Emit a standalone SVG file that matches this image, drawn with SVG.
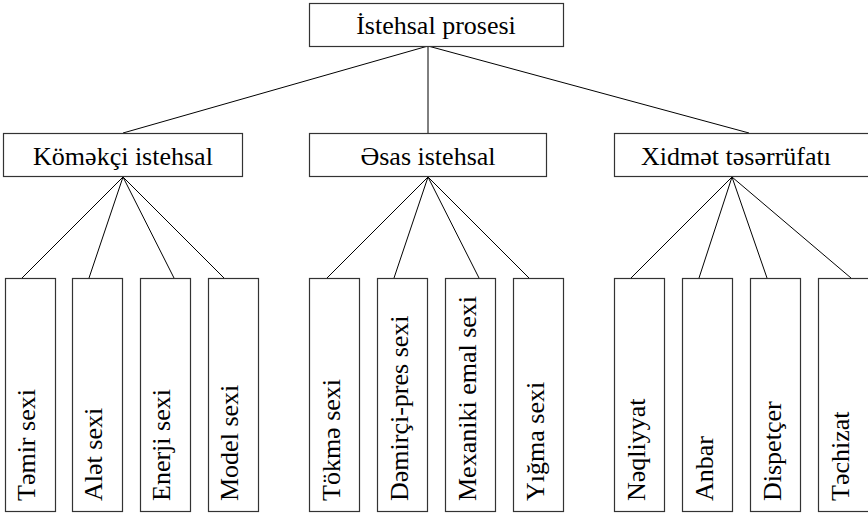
<svg xmlns="http://www.w3.org/2000/svg" width="868" height="514" viewBox="0 0 868 514">
<style>
.box{fill:#fff;stroke:#333;stroke-width:1.2}
.t{font-family:"Liberation Serif","Times New Roman",serif;font-size:26px;fill:#000}
.c{text-anchor:middle}
.v{text-anchor:start}
.ln{stroke:#000;stroke-width:1;fill:none}
</style>
<rect width="868" height="514" fill="#fff"/>
<g id="connectors">
<line class="ln" x1="428" y1="46" x2="123" y2="133"/>
<line class="ln" x1="428" y1="46" x2="428" y2="133"/>
<line class="ln" x1="428" y1="46" x2="749" y2="133"/>
<line class="ln" x1="123" y1="177" x2="22" y2="278"/>
<line class="ln" x1="123" y1="177" x2="89" y2="278"/>
<line class="ln" x1="123" y1="177" x2="174" y2="278"/>
<line class="ln" x1="123" y1="177" x2="224" y2="278"/>
<line class="ln" x1="428" y1="177" x2="327" y2="278"/>
<line class="ln" x1="428" y1="177" x2="394" y2="278"/>
<line class="ln" x1="428" y1="177" x2="479" y2="278"/>
<line class="ln" x1="428" y1="177" x2="529" y2="278"/>
<line class="ln" x1="732" y1="177" x2="631" y2="278"/>
<line class="ln" x1="732" y1="177" x2="699" y2="278"/>
<line class="ln" x1="732" y1="177" x2="767" y2="278"/>
<line class="ln" x1="732" y1="177" x2="851" y2="278"/>
</g>
<g id="root"><rect class="box" x="309.5" y="3.5" width="254" height="43"/><text class="t c" x="436" y="34">İstehsal prosesi</text></g>
<g id="komekci"><rect class="box" x="3.5" y="133.5" width="239" height="43"/><text class="t c" x="123" y="165">Köməkçi istehsal</text></g>
<g id="esas"><rect class="box" x="309.5" y="133.5" width="237" height="43"/><text class="t c" x="428" y="165">Əsas istehsal</text></g>
<g id="xidmet"><rect class="box" x="614.5" y="133.5" width="260" height="43"/><text class="t c" x="736" y="165">Xidmət təsərrüfatı</text></g>
<g id="temir"><rect class="box" x="5.5" y="278.5" width="50" height="233"/><text class="t v" transform="translate(35,501) rotate(-90)">Təmir sexi</text></g>
<g id="alet"><rect class="box" x="72.5" y="278.5" width="50" height="233"/><text class="t v" transform="translate(102,501) rotate(-90)">Alət sexi</text></g>
<g id="enerji"><rect class="box" x="140.5" y="278.5" width="50" height="233"/><text class="t v" transform="translate(170,501) rotate(-90)">Enerji sexi</text></g>
<g id="model"><rect class="box" x="208.5" y="278.5" width="50" height="233"/><text class="t v" transform="translate(238,501) rotate(-90)">Model sexi</text></g>
<g id="tokme"><rect class="box" x="309.5" y="278.5" width="50" height="233"/><text class="t v" transform="translate(340,501) rotate(-90)">Tökmə sexi</text></g>
<g id="demirci"><rect class="box" x="377.5" y="278.5" width="50" height="233"/><text class="t v" transform="translate(408,501) rotate(-90)">Dəmirçi-pres sexi</text></g>
<g id="mexaniki"><rect class="box" x="445.5" y="278.5" width="50" height="233"/><text class="t v" transform="translate(476,501) rotate(-90)">Mexaniki emal sexi</text></g>
<g id="yigma"><rect class="box" x="513.5" y="278.5" width="50" height="233"/><text class="t v" transform="translate(544,501) rotate(-90)">Yığma sexi</text></g>
<g id="neqliyyat"><rect class="box" x="614.5" y="278.5" width="50" height="233"/><text class="t v" transform="translate(645,501) rotate(-90)">Nəqliyyat</text></g>
<g id="anbar"><rect class="box" x="682.5" y="278.5" width="50" height="233"/><text class="t v" transform="translate(713,501) rotate(-90)">Anbar</text></g>
<g id="dispetcer"><rect class="box" x="750.5" y="278.5" width="50" height="233"/><text class="t v" transform="translate(781,501) rotate(-90)">Dispetçer</text></g>
<g id="techizat"><rect class="box" x="818.5" y="278.5" width="60" height="233"/><text class="t v" transform="translate(849,501) rotate(-90)">Təchizat</text></g>
</svg>
